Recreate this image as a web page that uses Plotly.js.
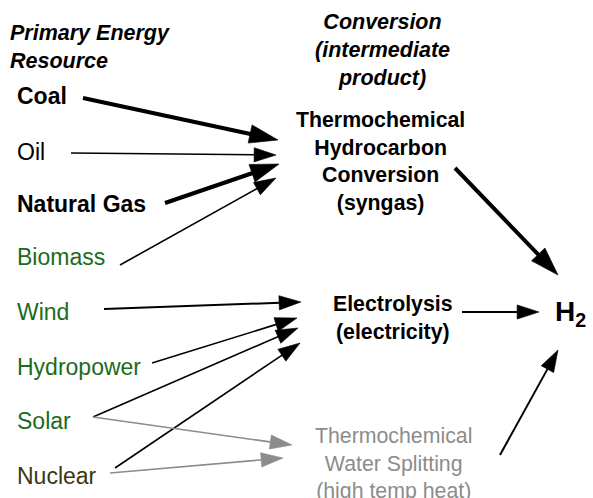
<!DOCTYPE html>
<html><head><meta charset="utf-8">
<script src="https://cdn.plot.ly/plotly-3.0.1.min.js"></script>
<style>html,body{margin:0;padding:0;background:#fff}</style>
</head><body><div id="chart" style="width:593px;height:498px"></div>
<script>
// ---- data ----
const headers = ['Primary Energy<br>Resource', 'Conversion<br>(intermediate<br>product)'];
const resources = ['Coal', 'Oil', 'Natural Gas', 'Biomass', 'Wind', 'Hydropower', 'Solar', 'Nuclear'];
const resourceType = ['fossil', 'fossil', 'fossil', 'renewable', 'renewable', 'renewable', 'renewable', 'nuclear'];
const conversions = ['Thermochemical<br>Hydrocarbon<br>Conversion<br>(syngas)', 'Electrolysis<br>(electricity)', 'Thermochemical<br>Water Splitting<br>(high temp heat)'];
const product = ['H<sub>2</sub>'];
// links: source node -> target node
const linkSource = ['Coal', 'Oil', 'Natural Gas', 'Biomass', 'Wind', 'Hydropower', 'Solar', 'Nuclear', 'Solar', 'Nuclear', 'conv0', 'conv1', 'conv2'];
const linkTarget = ['conv0', 'conv0', 'conv0', 'conv0', 'conv1', 'conv1', 'conv1', 'conv1', 'conv2', 'conv2', 'H2', 'H2', 'H2'];
const linkMajor = [true, false, true, false, false, false, false, false, false, false, true, false, false];

// ---- layout geometry (pixels in a 593x498 frame) ----
const resPos = {x: 15, y: [96, 152, 204, 257, 312, 367, 421, 476]};
const convPos = [{x: 380, y: 161}, {x: 393, y: 318}, {x: 393, y: 463}];
const headerPos = [{x: 8, y: 47, anchor: 'left'}, {x: 382, y: 50, anchor: 'center'}];
const h2Pos = {x: 553, y: 313};
const linkGeom = [
  [83, 98, 278, 140],
  [71, 153, 276, 155],
  [165, 203, 279, 164],
  [120, 265, 276, 178],
  [104, 309, 301, 302],
  [152, 363, 297, 318],
  [93, 417, 298, 328],
  [115, 468, 300, 343],
  [93, 417, 292, 445],
  [110, 473, 283, 458],
  [455, 168, 558, 275],
  [462, 312, 539, 312],
  [500, 455, 558, 350]
];
const colorFor = {fossil: '#000000', renewable: '#1c6b1c', nuclear: '#3d3610'};
const grey = '#8c8c8c';
const FONT = 'Liberation Sans, Arial, Helvetica, sans-serif';

const traces = [];
linkGeom.forEach((g, i) => {
  const isGrey = linkTarget[i] === 'conv2';
  const major = linkMajor[i];
  const col = isGrey ? grey : '#000';
  traces.push({
    type: 'scatter', mode: 'lines+markers',
    x: [g[0], g[2]], y: [g[1], g[3]],
    line: {color: col, width: major ? 4 : (i === 4 || i >= 11 ? 2 : 1.6)},
    marker: {symbol: 'arrow', size: [0, major ? 30 : 23], angleref: 'previous', color: col, opacity: 1,
      line: {width: 0.6, color: col}},
    hoverinfo: 'skip', showlegend: false,
    name: linkSource[i] + ' → ' + linkTarget[i]
  });
});

const ann = [];
headers.forEach((h, i) => {
  ann.push({text: '<b><i>' + h + '</i></b>', x: headerPos[i].x, y: headerPos[i].y, xanchor: headerPos[i].anchor, yanchor: 'middle', align: headerPos[i].anchor === 'left' ? 'left' : 'center',
    showarrow: false, font: {family: FONT, size: 21.5, color: '#000'}});
});
resources.forEach((r, i) => {
  const bold = (r === 'Coal' || r === 'Natural Gas');
  ann.push({text: bold ? '<b>' + r + '</b>' : r, x: resPos.x, y: resPos.y[i], xanchor: 'left', yanchor: 'middle',
    showarrow: false, font: {family: FONT, size: 23, color: colorFor[resourceType[i]]}});
});
conversions.forEach((c, i) => {
  const isGrey = i === 2;
  ann.push({text: isGrey ? c : '<b>' + c + '</b>', x: convPos[i].x, y: convPos[i].y, xanchor: 'center', yanchor: 'middle', align: 'center',
    showarrow: false, font: {family: FONT, size: 21.3, color: isGrey ? grey : '#000'}});
});
ann.push({text: '<b>' + product[0] + '</b>', x: h2Pos.x, y: h2Pos.y, xanchor: 'left', yanchor: 'middle',
  showarrow: false, font: {family: FONT, size: 28, color: '#000'}});
ann.forEach(a => { a.xref = 'x'; a.yref = 'y'; });

const layout = {
  width: 593, height: 498,
  margin: {l: 0, r: 0, t: 0, b: 0, pad: 0},
  paper_bgcolor: '#fff', plot_bgcolor: '#fff',
  xaxis: {range: [0, 593], visible: false, fixedrange: true},
  yaxis: {range: [498, 0], visible: false, fixedrange: true},
  annotations: ann,
  showlegend: false
};
Plotly.newPlot('chart', traces, layout, {displayModeBar: false, staticPlot: true});
</script>
</body></html>
